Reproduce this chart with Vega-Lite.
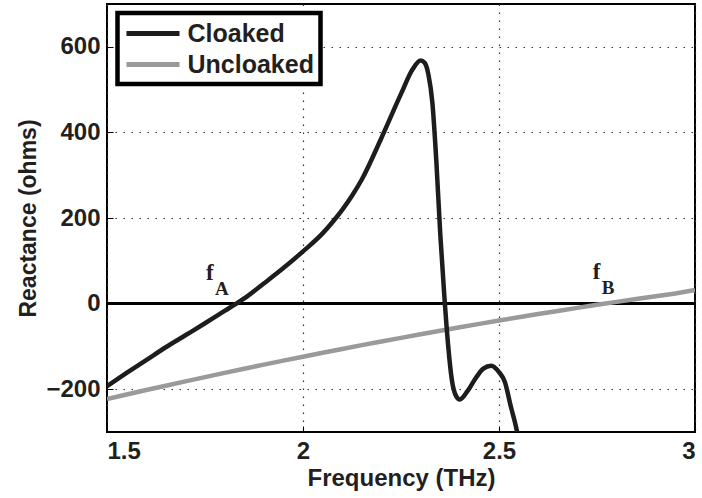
{
  "$schema": "https://vega.github.io/schema/vega-lite/v6.json",
  "width": 588,
  "height": 428,
  "autosize": {"type": "none"},
  "padding": {"left": 107, "top": 4, "right": 7, "bottom": 66},
  "background": "white",
  "config": {
    "font": "Liberation Sans",
    "view": {"stroke": "#000", "strokeWidth": 2},
    "legend": {"strokeColor": "#000", "strokeWidth": 4.5, "fillColor": "#fff"},
    "axis": {
      "labelFont": "Liberation Sans",
      "labelFontWeight": "bold",
      "labelFontSize": 24,
      "labelColor": "#231f20",
      "titleFont": "Liberation Sans",
      "titleFontWeight": "bold",
      "titleFontSize": 24,
      "titleColor": "#231f20",
      "domain": false,
      "ticks": true,
      "tickColor": "#000",
      "tickSize": -6,
      "tickWidth": 1,
      "grid": true,
      "gridColor": "#333",
      "gridDash": [1.5, 6.5],
      "gridWidth": 1.2,
      "gridOpacity": 1
    }
  },
  "data": {
    "values": [
      {"freq": 1.50, "reactance": -193, "series": "Cloaked"},
      {"freq": 1.55, "reactance": -162, "series": "Cloaked"},
      {"freq": 1.60, "reactance": -132, "series": "Cloaked"},
      {"freq": 1.65, "reactance": -102, "series": "Cloaked"},
      {"freq": 1.70, "reactance": -74, "series": "Cloaked"},
      {"freq": 1.75, "reactance": -46, "series": "Cloaked"},
      {"freq": 1.80, "reactance": -17, "series": "Cloaked"},
      {"freq": 1.83, "reactance": 0, "series": "Cloaked"},
      {"freq": 1.85, "reactance": 12, "series": "Cloaked"},
      {"freq": 1.90, "reactance": 47, "series": "Cloaked"},
      {"freq": 1.95, "reactance": 83, "series": "Cloaked"},
      {"freq": 2.00, "reactance": 122, "series": "Cloaked"},
      {"freq": 2.05, "reactance": 164, "series": "Cloaked"},
      {"freq": 2.075, "reactance": 190, "series": "Cloaked"},
      {"freq": 2.10, "reactance": 219, "series": "Cloaked"},
      {"freq": 2.125, "reactance": 252, "series": "Cloaked"},
      {"freq": 2.15, "reactance": 290, "series": "Cloaked"},
      {"freq": 2.20, "reactance": 387, "series": "Cloaked"},
      {"freq": 2.25, "reactance": 490, "series": "Cloaked"},
      {"freq": 2.28, "reactance": 548, "series": "Cloaked"},
      {"freq": 2.30, "reactance": 568, "series": "Cloaked"},
      {"freq": 2.31, "reactance": 563, "series": "Cloaked"},
      {"freq": 2.32, "reactance": 535, "series": "Cloaked"},
      {"freq": 2.33, "reactance": 470, "series": "Cloaked"},
      {"freq": 2.34, "reactance": 335, "series": "Cloaked"},
      {"freq": 2.35, "reactance": 165, "series": "Cloaked"},
      {"freq": 2.36, "reactance": 25, "series": "Cloaked"},
      {"freq": 2.37, "reactance": -95, "series": "Cloaked"},
      {"freq": 2.38, "reactance": -180, "series": "Cloaked"},
      {"freq": 2.39, "reactance": -215, "series": "Cloaked"},
      {"freq": 2.40, "reactance": -224, "series": "Cloaked"},
      {"freq": 2.42, "reactance": -204, "series": "Cloaked"},
      {"freq": 2.44, "reactance": -175, "series": "Cloaked"},
      {"freq": 2.46, "reactance": -152, "series": "Cloaked"},
      {"freq": 2.48, "reactance": -145, "series": "Cloaked"},
      {"freq": 2.50, "reactance": -160, "series": "Cloaked"},
      {"freq": 2.515, "reactance": -183, "series": "Cloaked"},
      {"freq": 2.53, "reactance": -240, "series": "Cloaked"},
      {"freq": 2.54, "reactance": -275, "series": "Cloaked"},
      {"freq": 2.55, "reactance": -315, "series": "Cloaked"},
      {"freq": 1.50, "reactance": -223, "series": "Uncloaked"},
      {"freq": 1.55, "reactance": -212.4, "series": "Uncloaked"},
      {"freq": 1.60, "reactance": -202.0, "series": "Uncloaked"},
      {"freq": 1.65, "reactance": -191.8, "series": "Uncloaked"},
      {"freq": 1.70, "reactance": -181.6, "series": "Uncloaked"},
      {"freq": 1.75, "reactance": -171.7, "series": "Uncloaked"},
      {"freq": 1.80, "reactance": -161.8, "series": "Uncloaked"},
      {"freq": 1.85, "reactance": -152.1, "series": "Uncloaked"},
      {"freq": 1.90, "reactance": -142.6, "series": "Uncloaked"},
      {"freq": 1.95, "reactance": -133.2, "series": "Uncloaked"},
      {"freq": 2.00, "reactance": -124.0, "series": "Uncloaked"},
      {"freq": 2.05, "reactance": -114.9, "series": "Uncloaked"},
      {"freq": 2.10, "reactance": -105.9, "series": "Uncloaked"},
      {"freq": 2.15, "reactance": -97.1, "series": "Uncloaked"},
      {"freq": 2.20, "reactance": -88.5, "series": "Uncloaked"},
      {"freq": 2.25, "reactance": -80.0, "series": "Uncloaked"},
      {"freq": 2.30, "reactance": -71.6, "series": "Uncloaked"},
      {"freq": 2.35, "reactance": -63.4, "series": "Uncloaked"},
      {"freq": 2.40, "reactance": -55.3, "series": "Uncloaked"},
      {"freq": 2.45, "reactance": -47.4, "series": "Uncloaked"},
      {"freq": 2.50, "reactance": -39.6, "series": "Uncloaked"},
      {"freq": 2.55, "reactance": -32.0, "series": "Uncloaked"},
      {"freq": 2.60, "reactance": -24.5, "series": "Uncloaked"},
      {"freq": 2.65, "reactance": -17.1, "series": "Uncloaked"},
      {"freq": 2.70, "reactance": -10.0, "series": "Uncloaked"},
      {"freq": 2.75, "reactance": -2.9, "series": "Uncloaked"},
      {"freq": 2.80, "reactance": 4.0, "series": "Uncloaked"},
      {"freq": 2.85, "reactance": 10.7, "series": "Uncloaked"},
      {"freq": 2.90, "reactance": 17.4, "series": "Uncloaked"},
      {"freq": 2.95, "reactance": 23.8, "series": "Uncloaked"},
      {"freq": 3.00, "reactance": 32.0, "series": "Uncloaked"}
    ]
  },
  "layer": [
    {
      "mark": {"type": "rule", "color": "#000", "strokeWidth": 2},
      "encoding": {
        "y": {
          "datum": 0, "type": "quantitative",
          "scale": {"domain": [-300, 700], "nice": false, "zero": false},
          "axis": {"title": "Reactance (ohms)", "titleFontSize": 23, "grid": true, "values": [-200, 0, 200, 400, 600], "labelPadding": 13, "titlePadding": 5}
        }
      }
    },
    {
      "transform": [{"filter": "datum.series === 'Uncloaked'"}],
      "mark": {"type": "line", "strokeWidth": 4.5, "clip": true},
      "encoding": {
        "x": {
          "field": "freq", "type": "quantitative",
          "scale": {"domain": [1.5, 3], "nice": false, "zero": false},
          "axis": {"title": "Frequency (THz)", "grid": true, "values": [1.5, 2, 2.5, 3], "format": "~g", "labelPadding": 13, "titlePadding": 3}
        },
        "y": {"field": "reactance", "type": "quantitative"},
        "color": {
          "field": "series", "type": "nominal",
          "scale": {"domain": ["Cloaked", "Uncloaked"], "range": ["#1e1c1d", "#9a9a9a"]},
          "legend": {
            "title": null,
            "orient": "none",
            "legendX": 10.5,
            "legendY": 9,
            "padding": 6,
            "symbolType": "M-2.21,0H2.21",
            "symbolSize": 576,
            "symbolStrokeWidth": 5,
            "symbolOffset": 15,
            "labelFont": "Liberation Sans",
            "labelFontWeight": "bold",
            "labelFontSize": 25,
            "labelColor": "#231f20",
            "labelOffset": 20,
            "rowPadding": 3
          }
        }
      }
    },
    {
      "transform": [{"filter": "datum.series === 'Cloaked'"}],
      "mark": {"type": "line", "strokeWidth": 4.5, "clip": true, "interpolate": "monotone"},
      "encoding": {
        "x": {"field": "freq", "type": "quantitative"},
        "y": {"field": "reactance", "type": "quantitative"},
        "color": {"field": "series", "type": "nominal"}
      }
    },
    {
      "data": {"values": [{"freq": 1.7526, "reactance": 56, "txt": "f"}, {"freq": 2.739, "reactance": 58, "txt": "f"}]},
      "mark": {"type": "text", "font": "Liberation Serif", "fontWeight": "bold", "fontSize": 23, "align": "left", "baseline": "alphabetic", "color": "#231f20"},
      "encoding": {
        "x": {"field": "freq", "type": "quantitative"},
        "y": {"field": "reactance", "type": "quantitative"},
        "text": {"field": "txt"}
      }
    },
    {
      "data": {"values": [{"freq": 1.7755, "reactance": 21, "txt": "A"}, {"freq": 2.762, "reactance": 23, "txt": "B"}]},
      "mark": {"type": "text", "font": "Liberation Serif", "fontWeight": "bold", "fontSize": 19, "align": "left", "baseline": "alphabetic", "color": "#231f20"},
      "encoding": {
        "x": {"field": "freq", "type": "quantitative"},
        "y": {"field": "reactance", "type": "quantitative"},
        "text": {"field": "txt"}
      }
    }
  ]
}
